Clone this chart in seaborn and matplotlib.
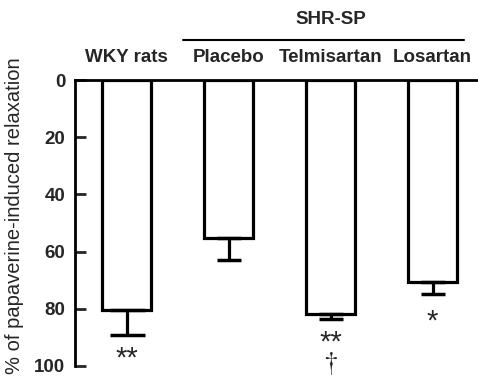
import matplotlib
matplotlib.use("Agg")
import matplotlib.pyplot as plt
import matplotlib.transforms as mtransforms
import seaborn as sns
import pandas as pd

categories = ["WKY rats", "Placebo", "Telmisartan", "Losartan"]
values = [80.5, 55.2, 81.8, 70.6]
errors = [8.7, 7.8, 1.8, 4.2]
marks = ["**", "", "**\n$\\dagger$", "*"]
group_label = "SHR-SP"
y_ticks = [0, 20, 40, 60, 80, 100]
y_label = "% of papaverine-induced relaxation"

# styling (not data)
cap_sizes = [12.6, 8.6, 8.6, 8.6]
mark_baseline = [100.2, None, 101.8, 87.3]

sns.set_theme(style="white")
plt.rcParams['font.family'] = ['Liberation Sans', 'DejaVu Sans']
plt.rcParams['mathtext.fontset'] = 'stix'

fig = plt.figure(figsize=(4.78, 3.76), dpi=100)
ax = fig.add_axes([75/478, 10/376, 1 - 75/478, 286/376])

df = pd.DataFrame({"group": categories, "value": values})
sns.barplot(data=df, x="group", y="value", order=categories, color="white",
            edgecolor="black", linewidth=2.3, width=0.48, ax=ax, saturation=1)
for i, (v, e) in enumerate(zip(values, errors)):
    ax.errorbar([i], [v], yerr=[[0], [e]], fmt="none", ecolor="black",
                elinewidth=2.3, capsize=cap_sizes[i], capthick=2.5)

ax.set_xlim(-0.505, 3.446)
ax.set_ylim(100, 0)
ax.set_yticks(y_ticks)
ax.set_yticklabels([str(t) for t in y_ticks], fontsize=13.5, fontweight="bold")
ax.tick_params(axis="y", direction="in", length=8, width=2, pad=7, left=True)
ax.set_xticks([])
ax.set_xlabel("")
ax.set_ylabel("")
for s in ["right", "bottom"]:
    ax.spines[s].set_visible(False)
for s in ["left", "top"]:
    ax.spines[s].set_linewidth(2)
    ax.spines[s].set_color("black")

fig.text(15/478, 1 - 216/376, y_label, rotation=90, ha="center", va="center",
         fontsize=14.5, fontweight="medium")

trans = mtransforms.blended_transform_factory(ax.transData, fig.transFigure)
for i, c in enumerate(categories):
    ax.text(i, 1 - 57/376, c, transform=trans, ha="center", va="center",
            fontsize=13.5, fontweight="bold")
ax.text(2.0, 1 - 20/376, group_label, transform=trans, ha="center", va="center",
        fontsize=13.5, fontweight="bold")
line = plt.Line2D([183/478, 464/478], [1 - 40/376, 1 - 40/376], transform=fig.transFigure,
                  color="black", linewidth=1.5)
fig.add_artist(line)

for i, m in enumerate(marks):
    if m:
        ax.text(i, mark_baseline[i], m, ha="center", va="baseline", fontsize=21,
                linespacing=0.68)

fig.savefig("out.png", dpi=100)
